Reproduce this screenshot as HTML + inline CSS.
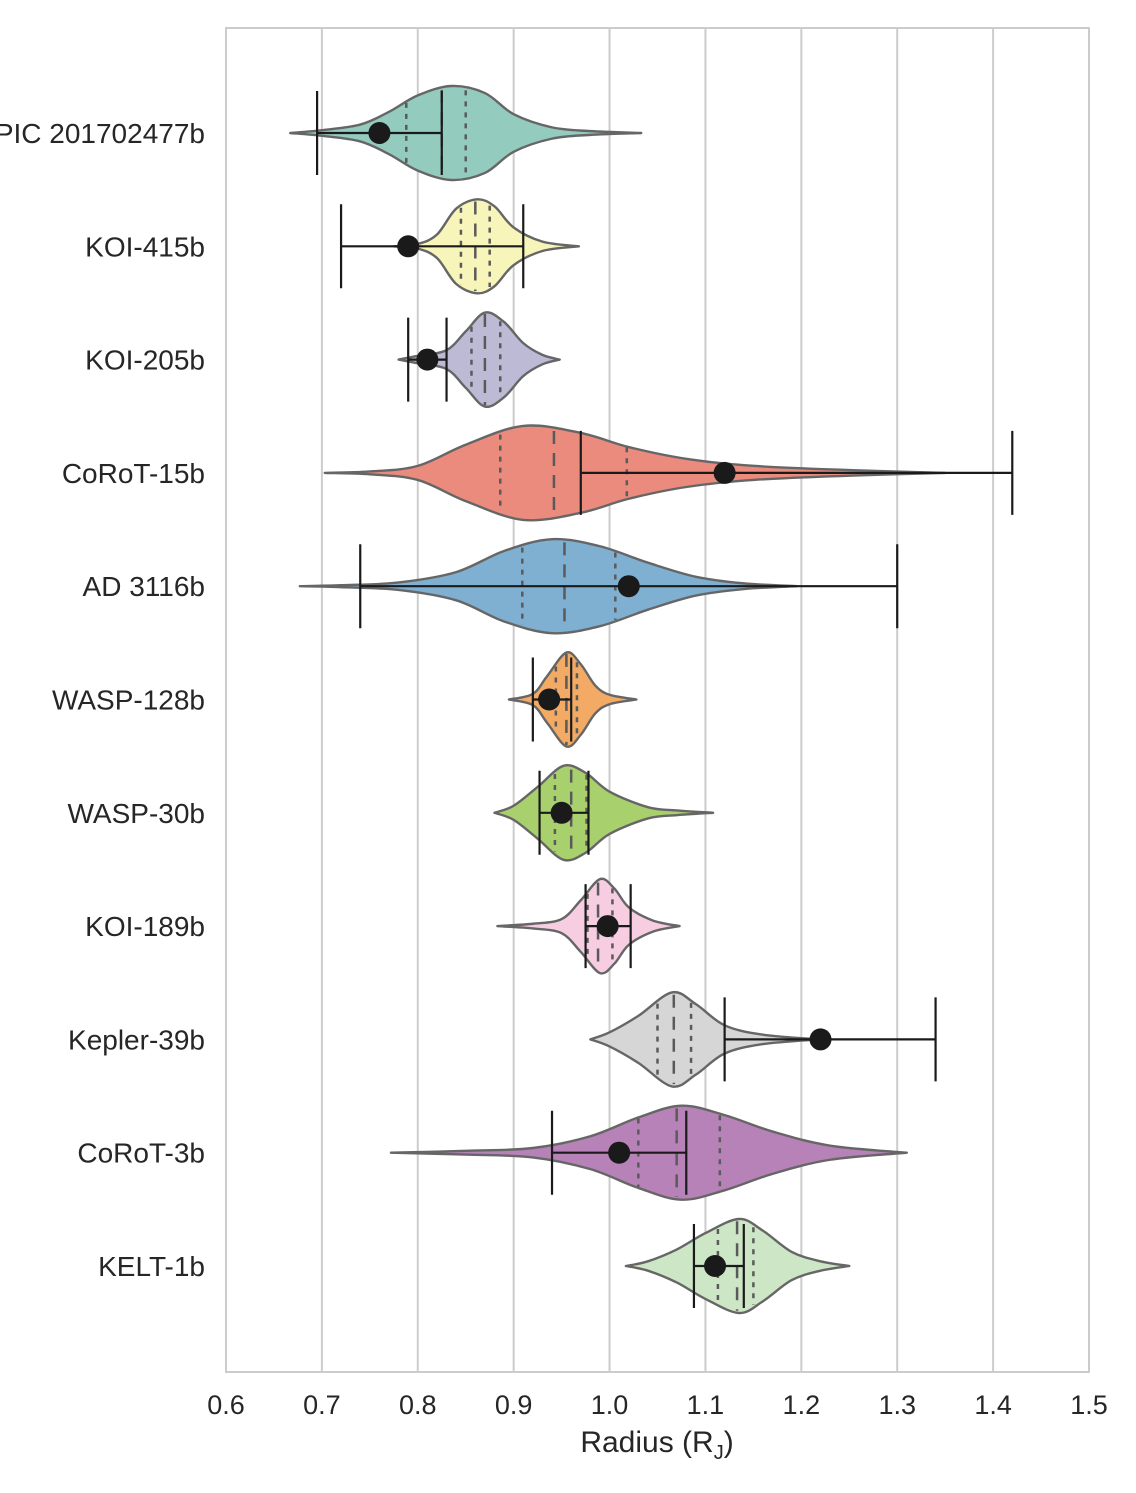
<!DOCTYPE html>
<html><head><meta charset="utf-8">
<style>
html,body{margin:0;padding:0;background:#fff;}
svg{display:block;font-family:"Liberation Sans",Arial,sans-serif;}
</style></head>
<body>
<svg id="chart" width="1136" height="1493" viewBox="0 0 1136 1493" xmlns="http://www.w3.org/2000/svg">
<rect x="0" y="0" width="1136" height="1493" fill="#fff"/>
<g id="grid"></g>
<g id="violins"></g>
<g id="errs"></g>
<rect x="226" y="28" width="863" height="1344" fill="none" stroke="#cccccc" stroke-width="2"/>
<g id="labels"></g>
<text x="657" y="1452" font-size="30" fill="#262626" text-anchor="middle">Radius (R<tspan font-size="20" dy="7">J</tspan><tspan dy="-7">)</tspan></text>
</svg>
<script>
const planets = ["EPIC 201702477b","KOI-415b","KOI-205b","CoRoT-15b","AD 3116b","WASP-128b","WASP-30b","KOI-189b","Kepler-39b","CoRoT-3b","KELT-1b"];
const colors = ["#93cbbf","#f7f5b9","#bdbad6","#ea8b7d","#80b0d1","#f2aa64","#a8d16e","#f7cde2","#d6d6d6","#b682b7","#cce6c6"];
const profileR = [
 [0.667,0.70,0.74,0.77,0.80,0.835,0.87,0.90,0.94,0.98,1.033],
 [0.775,0.80,0.82,0.84,0.862,0.88,0.90,0.93,0.968],
 [0.78,0.80,0.83,0.85,0.87,0.89,0.91,0.93,0.948],
 [0.703,0.75,0.80,0.85,0.91,0.97,1.02,1.08,1.15,1.25,1.35],
 [0.677,0.72,0.78,0.84,0.89,0.94,0.99,1.04,1.09,1.14,1.195],
 [0.895,0.92,0.935,0.955,0.97,0.985,1.00,1.028],
 [0.88,0.90,0.925,0.952,0.975,1.00,1.04,1.07,1.108],
 [0.883,0.92,0.95,0.97,0.99,1.005,1.02,1.045,1.073],
 [0.98,1.00,1.03,1.065,1.09,1.12,1.16,1.218],
 [0.772,0.85,0.92,0.98,1.03,1.075,1.12,1.17,1.23,1.31],
 [1.017,1.04,1.07,1.10,1.135,1.16,1.19,1.22,1.25]
];
const profileW = [
 [0,0.06,0.18,0.45,0.8,1,0.85,0.4,0.12,0.04,0],
 [0,0.05,0.25,0.8,1,0.85,0.4,0.1,0],
 [0,0.08,0.2,0.6,1,0.8,0.35,0.1,0],
 [0,0.03,0.15,0.6,1,0.85,0.55,0.3,0.15,0.06,0],
 [0,0.02,0.08,0.3,0.75,1,0.85,0.5,0.2,0.06,0],
 [0,0.12,0.5,1,0.75,0.3,0.1,0],
 [0,0.15,0.55,1,0.85,0.45,0.12,0.05,0],
 [0,0.05,0.15,0.55,1,0.8,0.4,0.12,0],
 [0,0.15,0.5,1,0.75,0.3,0.1,0],
 [0,0.04,0.1,0.35,0.75,1,0.8,0.45,0.15,0],
 [0,0.1,0.35,0.7,1,0.75,0.3,0.1,0]
];
const q1 = [0.788,0.845,0.856,0.886,0.909,0.944,0.943,0.977,1.050,1.030,1.113];
const med = [0.825,0.860,0.870,0.942,0.953,0.955,0.960,0.988,1.067,1.070,1.133];
const q3 = [0.850,0.875,0.886,1.018,1.006,0.966,0.976,1.003,1.085,1.115,1.150];
const point = [0.760,0.790,0.810,1.120,1.020,0.937,0.950,0.998,1.220,1.010,1.110];
const errLo = [0.695,0.720,0.790,0.970,0.740,0.920,0.927,0.975,1.120,0.940,1.088];
const errHi = [0.825,0.910,0.830,1.420,1.300,0.960,0.978,1.022,1.340,1.080,1.140];
const xTicks = ["0.6","0.7","0.8","0.9","1.0","1.1","1.2","1.3","1.4","1.5"];

const NS="http://www.w3.org/2000/svg";
const x = v => 226 + (v-0.6)/(0.9)*863;
const y = i => 133 + i*113.3;
const HW = 47;
function mk(tag, attrs, parent){const e=document.createElementNS(NS,tag);for(const k in attrs)e.setAttribute(k,attrs[k]);parent.appendChild(e);return e;}
function interp(rs,ws,v){if(v<=rs[0]||v>=rs[rs.length-1])return 0;for(let j=0;j<rs.length-1;j++){if(v>=rs[j]&&v<=rs[j+1]){const t=(v-rs[j])/(rs[j+1]-rs[j]);return ws[j]+t*(ws[j+1]-ws[j]);}}return 0;}
function spline(pts){let d=`M${pts[0][0]},${pts[0][1]}`;for(let i=0;i<pts.length-1;i++){const p0=pts[Math.max(0,i-1)],p1=pts[i],p2=pts[i+1],p3=pts[Math.min(pts.length-1,i+2)];const c1=[p1[0]+(p2[0]-p0[0])/6,p1[1]+(p2[1]-p0[1])/6];const c2=[p2[0]-(p3[0]-p1[0])/6,p2[1]-(p3[1]-p1[1])/6];d+=` C${c1[0]},${c1[1]} ${c2[0]},${c2[1]} ${p2[0]},${p2[1]}`;}return d;}

const grid=document.getElementById('grid');
const labels=document.getElementById('labels');
xTicks.forEach(t=>{
  const gl=mk('line',{x1:x(+t),x2:x(+t),y1:28,y2:1372,stroke:'#cccccc','stroke-width':2},grid);
  
  
  const tl=mk('text',{x:x(+t),y:1414,'font-size':27,fill:'#262626','text-anchor':'middle'},labels);
  tl.textContent=t;
  
  
});

const vg=document.getElementById('violins');
const eg=document.getElementById('errs');
planets.forEach((p,i)=>{
  const cy=y(i), rs=profileR[i], ws=profileW[i];
  const top=rs.map((r,j)=>[x(r),cy-ws[j]*HW]);
  const bot=rs.map((r,j)=>[x(r),cy+ws[j]*HW]).reverse();
  let d=spline(top)+' '+spline(bot).replace(/^M/,'L')+' Z';
  const g=mk('g',{},vg);
  
  
  mk('path',{d:d,fill:colors[i],stroke:'#666666','stroke-width':2.4,'stroke-linejoin':'round'},g);
  [[q1[i],'5,6'],[med[i],'13,9'],[q3[i],'5,6']].forEach(([v,da])=>{
    const w=interp(rs,ws,v)*HW*0.97;
    mk('line',{x1:x(v),x2:x(v),y1:cy-w,y2:cy+w,stroke:'#5a5a5a','stroke-width':2.5,'stroke-dasharray':da},g);
  });
  const eb=mk('g',{},eg);
  
  
  mk('line',{x1:x(errLo[i]),x2:x(errHi[i]),y1:cy,y2:cy,stroke:'#1a1a1a','stroke-width':2.2},eb);
  mk('line',{x1:x(errLo[i]),x2:x(errLo[i]),y1:cy-42,y2:cy+42,stroke:'#1a1a1a','stroke-width':2.2},eb);
  mk('line',{x1:x(errHi[i]),x2:x(errHi[i]),y1:cy-42,y2:cy+42,stroke:'#1a1a1a','stroke-width':2.2},eb);
  mk('circle',{cx:x(point[i]),cy:cy,r:11,fill:'#1a1a1a'},eb);
  const lt=mk('text',{x:205,y:cy+10,'font-size':28,fill:'#262626','text-anchor':'end'},labels);
  lt.textContent=p;
  
  
});
</script>
</body></html>
